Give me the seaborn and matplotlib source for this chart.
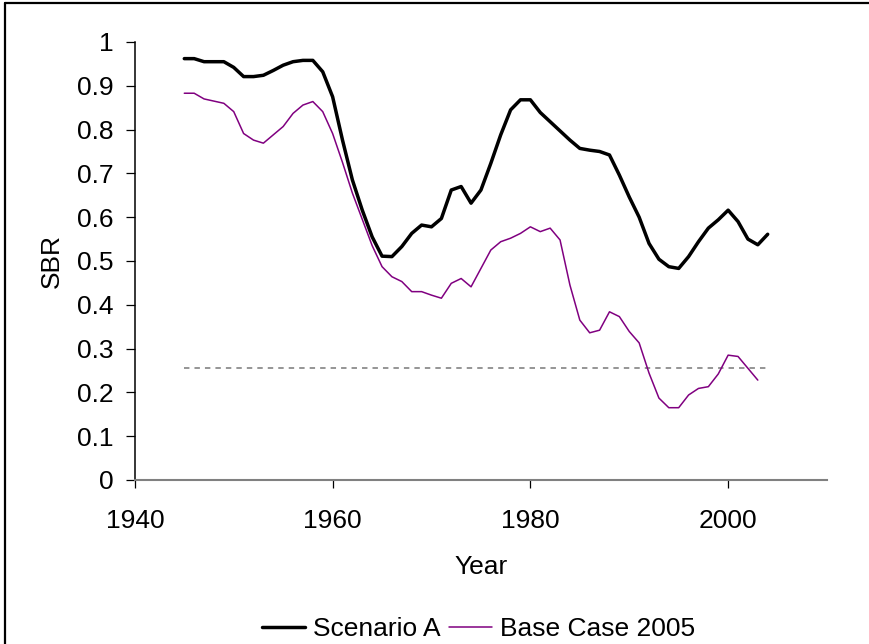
import matplotlib
matplotlib.use("Agg")
import matplotlib.pyplot as plt
from matplotlib.lines import Line2D
import numpy as np
import pandas as pd
import seaborn as sns

# values
years_a = list(range(1945, 2005))
scenario_a = [0.962, 0.962, 0.955, 0.955, 0.955, 0.942, 0.921, 0.921, 0.924, 0.935,
              0.947, 0.955, 0.958, 0.958, 0.932, 0.875, 0.776, 0.685, 0.616, 0.555,
              0.511, 0.510, 0.533, 0.563, 0.582, 0.578, 0.597, 0.662, 0.670, 0.632,
              0.662, 0.723, 0.788, 0.845, 0.868, 0.868, 0.839, 0.818, 0.797, 0.776,
              0.757, 0.753, 0.750, 0.742, 0.696, 0.646, 0.600, 0.540, 0.504, 0.487,
              0.483, 0.510, 0.544, 0.575, 0.594, 0.616, 0.590, 0.550, 0.537, 0.561]

years_b = list(range(1945, 2004))
base_case = [0.883, 0.883, 0.870, 0.865, 0.860, 0.841, 0.791, 0.776, 0.769, 0.788,
             0.807, 0.837, 0.856, 0.864, 0.841, 0.791, 0.725, 0.655, 0.595, 0.535,
             0.487, 0.464, 0.453, 0.430, 0.430, 0.422, 0.415, 0.449, 0.460, 0.441,
             0.483, 0.525, 0.544, 0.552, 0.563, 0.578, 0.567, 0.575, 0.548, 0.445,
             0.365, 0.336, 0.342, 0.384, 0.373, 0.339, 0.313, 0.244, 0.187, 0.165,
             0.165, 0.194, 0.209, 0.213, 0.242, 0.285, 0.282, 0.255, 0.228]

ref_years = [1945, 2004]
ref_level = [0.256, 0.256]

sns.set_style("ticks")
plt.rcParams['font.family'] = ['Liberation Sans', 'DejaVu Sans']
plt.rcParams['text.color'] = 'black'
plt.rcParams['axes.labelcolor'] = 'black'

fig = plt.figure(figsize=(8.7, 6.44), dpi=100)
ax = fig.add_axes([0.155, 0.2547, 0.7956, 0.6801])

df_a = pd.DataFrame({'Year': years_a, 'SBR': scenario_a})
df_b = pd.DataFrame({'Year': years_b, 'SBR': base_case})
df_r = pd.DataFrame({'Year': ref_years, 'SBR': ref_level})

sns.lineplot(data=df_r, x='Year', y='SBR', ax=ax, color='#8c8c8c', lw=1.3,
             linestyle=(0, (3, 2.8)))
sns.lineplot(data=df_b, x='Year', y='SBR', ax=ax, color='#800080', lw=1.1)
sns.lineplot(data=df_a, x='Year', y='SBR', ax=ax, color='black', lw=2.5)

ax.set_xlim(1940, 2010)
ax.set_ylim(0, 1)
ax.set_xticks([1940, 1960, 1980, 2000])
ax.set_yticks(np.arange(0, 1.01, 0.1))
ax.set_yticklabels(['0', '0.1', '0.2', '0.3', '0.4', '0.5', '0.6', '0.7', '0.8', '0.9', '1'])

ax.spines['top'].set_visible(False)
ax.spines['right'].set_visible(False)
ax.spines['left'].set_color('black')
ax.spines['left'].set_linewidth(1.1)
ax.spines['bottom'].set_color('#808080')
ax.spines['bottom'].set_linewidth(1.5)

ax.tick_params(axis='y', direction='out', length=6.5, width=0.9, pad=9, labelsize=19,
               colors='black')
ax.tick_params(axis='x', direction='out', length=6, width=0.9, pad=15, labelsize=19,
               colors='black')

ax.set_xlabel('Year', fontsize=19, labelpad=16)
ax.set_ylabel('SBR', fontsize=19, labelpad=9)

handles = [Line2D([], [], color='black', lw=2.5),
           Line2D([], [], color='#800080', lw=1.1)]
fig.legend(handles, ['Scenario A', 'Base Case 2005'], loc='center',
           bbox_to_anchor=(0.55, 0.023), ncol=2, frameon=False, fontsize=19,
           handlelength=1.6, handletextpad=0.3, columnspacing=0.35)

# outer frame of the picture (top and left edges visible)
fig.add_artist(Line2D([0.006, 1.0], [0.995, 0.995], color='black', lw=1.6,
                      transform=fig.transFigure))
fig.add_artist(Line2D([0.006, 0.006], [0.0, 0.995], color='black', lw=1.6,
                      transform=fig.transFigure))

fig.savefig('out.png', dpi=100)
